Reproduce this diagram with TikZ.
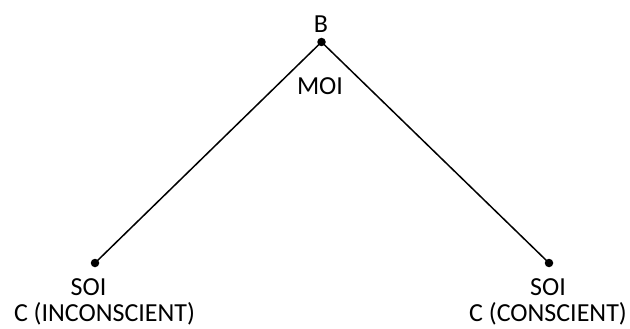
\documentclass[tikz,border=0pt]{standalone}
\usepackage{fontspec}
\setmainfont{Carlito}
\begin{document}
\begin{tikzpicture}[x=1pt,y=-1pt,
  dot/.style={circle,fill=black,inner sep=0pt,minimum size=8.5pt},
  lbl/.style={anchor=base,inner sep=0pt,font=\fontsize{26}{31}\selectfont},
  edge/.style={line width=1.5pt}]
\useasboundingbox (0,0) rectangle (630,329);
% points
\node[dot] (b) at (321.5,42) {};
\node[dot] (l) at (95,263) {};
\node[dot] (r) at (549,263) {};
% connectors
\draw[edge] (b.center) -- (l.center);
\draw[edge] (b.center) -- (r.center);
% labels
\node[lbl] (tb) at (321,33) {B};
\node[lbl] (tm) at (320,95) {MOI};
\node[lbl] (tl1) at (88.5,295) {SOI};
\node[lbl] (tl2) at (104.5,321.5) {C (INCONSCIENT)};
\node[lbl] (tr1) at (548,295) {SOI};
\node[lbl] (tr2) at (548,321.5) {C (CONSCIENT)};
\end{tikzpicture}
\end{document}
